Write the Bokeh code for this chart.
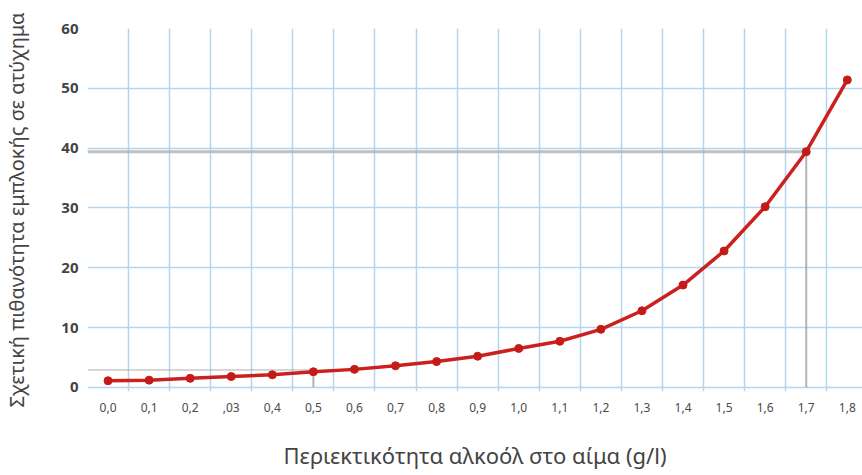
from bokeh.plotting import figure
from bokeh.models import FixedTicker, Range1d
from bokeh.embed import file_html
from bokeh.resources import INLINE

# Data
alcohol = [0.0, 0.1, 0.2, 0.3, 0.4, 0.5, 0.6, 0.7, 0.8, 0.9,
           1.0, 1.1, 1.2, 1.3, 1.4, 1.5, 1.6, 1.7, 1.8]
risk = [1.1, 1.2, 1.5, 1.8, 2.1, 2.6, 3.0, 3.6, 4.3, 5.2,
        6.5, 7.7, 9.7, 12.8, 17.1, 22.8, 30.2, 39.4, 51.4]
x_labels = ["0,0", "0,1", "0,2", ",03", "0,4", "0,5", "0,6", "0,7", "0,8", "0,9",
            "1,0", "1,1", "1,2", "1,3", "1,4", "1,5", "1,6", "1,7", "1,8"]
y_ticks = [0, 10, 20, 30, 40, 50, 60]
x_grid = [-0.05 + 0.1 * i for i in range(19)]
ref_x = [0.5, 1.7]
ref_y = [2.9, 39.4]

x_title = "Περιεκτικότητα αλκοόλ στο αίμα (g/l)"
y_title = "Σχετική πιθανότητα εμπλοκής σε ατύχημα"

p = figure(width=862, height=475, output_backend="svg", toolbar_location=None,
           x_range=Range1d(-0.05, 1.837), y_range=Range1d(-0.7, 60),
           min_border_left=87, min_border_top=28, min_border_right=0,
           min_border_bottom=84)
p.outline_line_color = None

# grid
p.xgrid.ticker = FixedTicker(ticks=x_grid)
p.ygrid.ticker = FixedTicker(ticks=y_ticks)
for g in (p.xgrid, p.ygrid):
    g.grid_line_color = "#b3d6f0"
    g.grid_line_width = 1.5

# axes
p.xaxis.ticker = FixedTicker(ticks=alcohol)
p.xaxis.major_label_overrides = {a: l for a, l in zip(alcohol, x_labels)}
p.yaxis.ticker = FixedTicker(ticks=y_ticks)
for ax in (p.xaxis, p.yaxis):
    ax.axis_line_color = None
    ax.major_tick_line_color = None
    ax.minor_tick_line_color = None
    ax.major_tick_out = 0
    ax.major_tick_in = 0
p.xaxis.major_label_text_font = "Noto Sans"
p.xaxis.major_label_text_font_size = "12px"
p.xaxis.major_label_text_color = "#4a4a4a"
p.xaxis.major_label_standoff = 11
p.yaxis.major_label_text_font = "Open Sans"
p.yaxis.major_label_text_font_size = "15px"
p.yaxis.major_label_text_font_style = "bold"
p.yaxis.major_label_text_color = "#444444"
p.yaxis.major_label_standoff = 9

p.xaxis.axis_label = x_title
p.xaxis.axis_label_text_font = "Noto Sans"
p.xaxis.axis_label_text_font_size = "22px"
p.xaxis.axis_label_text_font_style = "normal"
p.xaxis.axis_label_text_color = "#444444"
p.xaxis.axis_label_standoff = 25

p.yaxis.axis_label = y_title
p.yaxis.axis_label_text_font = "Noto Sans"
p.yaxis.axis_label_text_font_size = "20px"
p.yaxis.axis_label_text_font_style = "normal"
p.yaxis.axis_label_text_color = "#444444"
p.yaxis.axis_label_standoff = 28

# reference lines
x0 = p.x_range.start
yb = 0
p.segment(x0=[x0, x0], y0=ref_y, x1=ref_x, y1=ref_y,
          line_color=["#9a9a9a", "#b0b0b0"], line_width=[1, 3], line_alpha=0.8)
p.segment(x0=ref_x, y0=ref_y, x1=ref_x, y1=[yb, yb],
          line_color="#a0a0a0", line_width=2, line_alpha=0.8)

# curve
p.line(alcohol, risk, line_color="#cc2020", line_width=3.5)
p.scatter(alcohol, risk, size=8, fill_color="#c41a18", line_color="#c41a18")

open("out.html", "w").write(file_html(p, INLINE))
